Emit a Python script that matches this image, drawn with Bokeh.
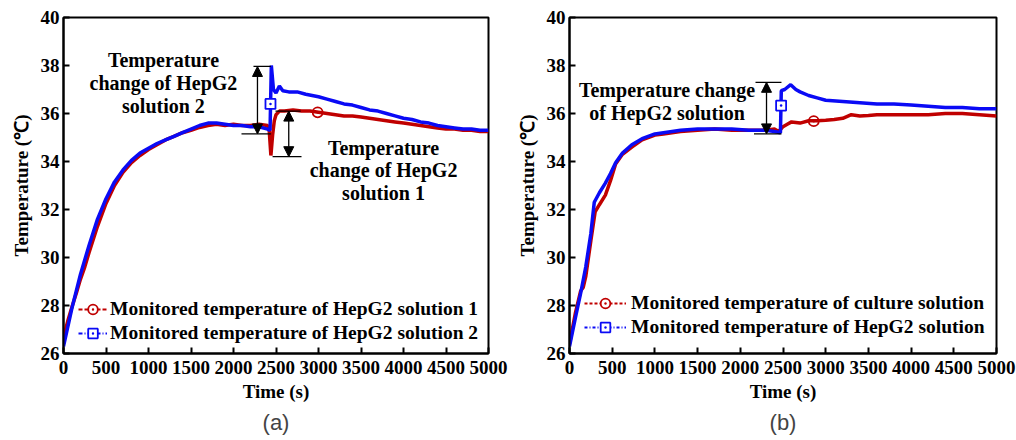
from bokeh.plotting import figure
from bokeh.layouts import row
from bokeh.models import (Range1d, Legend, LegendItem, Arrow, NormalHead, Label,
                          Title, FixedTicker)
from bokeh.embed import file_html
from bokeh.resources import INLINE

NAN = float("nan")

# ---------------- data: panel (a) ----------------
a_red_t = [0, 50, 100, 150, 200, 250, 300, 400, 500, 600, 700, 800, 900, 1000, 1100, 1200,
           1300, 1400, 1500, 1600, 1700, 1800, 1900, 2000, 2100, 2200, 2300, 2400, 2420,
           2440, 2460, 2480, 2500, 2540, 2600, 2700, 2800, 2900, 3000, 3100, 3200, 3300,
           3400, 3500, 3600, 3700, 3800, 3900, 4000, 4100, 4200, 4300, 4400, 4500, 4600,
           4700, 4800, 4900, 5000]
a_red_v = [26.7, 27.35, 27.95, 28.5, 29.1, 29.6, 30.2, 31.3, 32.25, 33.0, 33.55, 33.95, 34.25,
           34.5, 34.7, 34.9, 35.05, 35.2, 35.3, 35.42, 35.5, 35.55, 35.5, 35.55, 35.5,
           35.5, 35.55, 35.5, 35.3, 34.25, 35.1, 35.7, 35.95, 36.1, 36.1, 36.15, 36.1, 36.1,
           36.05, 36.0, 35.95, 35.9, 35.9, 35.85, 35.8, 35.75, 35.7, 35.65, 35.6, 35.55,
           35.5, 35.45, 35.4, 35.35, 35.35, 35.3, 35.3, 35.25, 35.25]
a_blue_t = [0, 50, 100, 200, 300, 400, 500, 600, 700, 800, 900, 1000, 1100, 1200, 1300, 1400,
            1500, 1600, 1700, 1800, 1900, 2000, 2100, 2200, 2300, 2400, 2430, 2445, 2470,
            2500, 2540, 2580, 2650, 2750, 2850, 3000, 3100, 3200, 3300, 3400, 3500, 3600,
            3700, 3800, 3900, 4000, 4100, 4200, 4300, 4400, 4500, 4600, 4700, 4800, 4900,
            5000]
a_blue_v = [26.3, 27.1, 27.9, 29.3, 30.5, 31.6, 32.45, 33.15, 33.65, 34.05, 34.35, 34.55,
            34.75, 34.9, 35.05, 35.2, 35.35, 35.5, 35.6, 35.6, 35.55, 35.5, 35.5, 35.45, 35.45,
            35.35, 35.3, 38.0, 37.0, 36.85, 37.15, 36.95, 36.9, 36.9, 36.8, 36.7, 36.6, 36.5,
            36.4, 36.35, 36.25, 36.15, 36.1, 36.0, 35.9, 35.8, 35.75, 35.65, 35.6, 35.5, 35.45,
            35.4, 35.35, 35.35, 35.3, 35.3]
a_red_marker = ([2990], [36.05])
a_blue_marker = ([2435], [36.4])
a_labels = ["Monitored temperature of HepG2 solution 1",
            "Monitored temperature of HepG2 solution 2"]
a_note2 = ["Temperature", "change of HepG2", "solution 2"]
a_note1 = ["Temperature", "change of HepG2", "solution 1"]

# ---------------- data: panel (b) ----------------
b_red_t = [0, 70, 130, 160, 190, 250, 300, 350, 420, 480, 540, 620, 730, 850, 1000, 1100,
           1300, 1500, 1700, 1900, 2100, 2300, 2400, 2450, 2500, 2550, 2600, 2700, 2800,
           2900, 3000, 3100, 3200, 3300, 3400, 3500, 3600, 3800, 4000, 4200, 4400, 4600,
           4800, 5000]
b_red_v = [26.4, 27.7, 28.6, 28.75, 29.2, 30.7, 31.9, 32.2, 32.6, 33.2, 33.9, 34.3, 34.6,
           34.9, 35.1, 35.15, 35.25, 35.3, 35.35, 35.3, 35.3, 35.3, 35.35, 35.25, 35.45,
           35.55, 35.65, 35.6, 35.7, 35.7, 35.72, 35.75, 35.8, 35.95, 35.9, 35.92, 35.95,
           35.95, 35.95, 35.95, 36.0, 36.0, 35.95, 35.9]
b_blue_t = [0, 70, 130, 190, 250, 290, 350, 420, 480, 540, 620, 730, 850, 1000, 1100, 1300,
            1500, 1700, 1900, 2100, 2300, 2400, 2470, 2480, 2520, 2590, 2650, 2700, 2800,
            2900, 3000, 3200, 3400, 3600, 3800, 4000, 4200, 4400, 4600, 4800, 5000]
b_blue_v = [26.3, 27.5, 28.5, 29.6, 31.0, 32.3, 32.7, 33.1, 33.5, 33.95, 34.35, 34.7, 34.95,
            35.15, 35.2, 35.3, 35.35, 35.35, 35.35, 35.3, 35.3, 35.25, 35.2, 36.95, 37.0,
            37.2, 37.0, 36.9, 36.75, 36.65, 36.55, 36.5, 36.45, 36.4, 36.4, 36.35, 36.3,
            36.25, 36.25, 36.2, 36.2]
b_red_marker = ([2860], [35.68])
b_blue_marker = ([2478], [36.33])
b_labels = ["Monitored temperature of culture solution",
            "Monitored temperature of HepG2 solution"]
b_note = ["Temperature change", "of HepG2 solution"]

x_ticks = [0, 500, 1000, 1500, 2000, 2500, 3000, 3500, 4000, 4500, 5000]
y_ticks = [26, 28, 30, 32, 34, 36, 38, 40]

RED = "#C00000"
BLUE = "#0A0AF5"
SERIF = "Liberation Serif"


def base_fig(border_left, border_right, caption):
    p = figure(width=508, height=440, output_backend="svg", toolbar_location=None,
               x_range=Range1d(0, 5000), y_range=Range1d(26, 40),
               min_border_left=border_left, min_border_right=border_right,
               min_border_top=17, min_border_bottom=87)
    p.grid.visible = False
    p.outline_line_color = "black"
    p.outline_line_width = 2
    p.background_fill_color = "white"
    p.xaxis.ticker = FixedTicker(ticks=x_ticks)
    p.yaxis.ticker = FixedTicker(ticks=y_ticks)
    for ax in (p.xaxis[0], p.yaxis[0]):
        ax.axis_line_width = 2
        ax.major_tick_in = 6
        ax.major_tick_out = 0
        ax.major_tick_line_width = 2
        ax.minor_tick_line_color = None
        ax.major_label_text_font = SERIF
        ax.major_label_text_font_style = "bold"
        ax.major_label_text_font_size = "19px"
        ax.major_label_text_color = "black"
        ax.axis_label_text_font = SERIF
        ax.axis_label_text_font_style = "bold"
        ax.axis_label_text_font_size = "19px"
        ax.axis_label_text_color = "black"
    p.xaxis.axis_label = "Time (s)"
    p.yaxis.axis_label = "Temperature (\u2103)"
    p.xaxis.major_label_standoff = 7
    p.yaxis.major_label_standoff = 4
    p.xaxis.axis_label_standoff = 4
    p.yaxis.axis_label_standoff = 6
    t = Title(text=caption, align="center", text_font="Liberation Sans",
              text_font_style="normal", text_font_size="22px", standoff=6)
    p.add_layout(t, "below")
    return p


def add_series(p, t, v, color):
    p.line(t, v, line_color=color, line_width=3.5)


def add_legend(p, labels, dashes, x_off, y_off, gw, standoff):
    items = []
    specs = [(RED, "circle_dot"), (BLUE, "square_dot")]
    for lab, dash, (col, mk) in zip(labels, dashes, specs):
        lr = p.line([NAN], [NAN], line_color=col, line_width=1.8, line_dash=dash)
        sr = p.scatter([NAN], [NAN], marker=mk, size=10, line_color=col, fill_color="white",
                       line_width=1.8)
        items.append(LegendItem(label=lab, renderers=[lr, sr]))
    leg = Legend(items=items, location=(x_off, y_off), padding=0, spacing=0, margin=0,
                 glyph_width=gw, glyph_height=24, label_height=24, label_standoff=standoff,
                 label_text_font=SERIF, label_text_font_style="bold",
                 label_text_font_size="19.5px", label_text_color="black",
                 background_fill_alpha=0, border_line_alpha=0)
    p.add_layout(leg)


def add_markers(p, red_m, blue_m):
    p.scatter(red_m[0], red_m[1], marker="circle_dot", size=10, line_color=RED,
              fill_color=None, line_width=1.8)
    p.scatter(blue_m[0], blue_m[1], marker="square_dot", size=10, line_color=BLUE,
              fill_color="white", line_width=1.8)


def bracket(p, x0_top, x1_top, y_top, x0_bot, x1_bot, y_bot, x_arrow):
    p.segment(x0=[x0_top, x0_bot], y0=[y_top, y_bot], x1=[x1_top, x1_bot], y1=[y_top, y_bot],
              line_color="black", line_width=1.3)
    p.add_layout(Arrow(x_start=x_arrow, y_start=y_bot, x_end=x_arrow, y_end=y_top,
                       line_width=1.3, line_color="black",
                       start=NormalHead(size=10, fill_color="black", line_color="black"),
                       end=NormalHead(size=10, fill_color="black", line_color="black")))


def note(p, lines, x, ys):
    for txt, y in zip(lines, ys):
        p.add_layout(Label(x=x, y=y, text=txt, text_align="center", text_baseline="middle",
                           text_font=SERIF, text_font_style="bold", text_font_size="20px",
                           text_color="black"))


# ---------- panel (a) ----------
pa = base_fig(63, 20, "(a)")
add_series(pa, a_red_t, a_red_v, RED)
add_series(pa, a_blue_t, a_blue_v, BLUE)
add_markers(pa, a_red_marker, a_blue_marker)
bracket(pa, 2235, 2440, 37.96, 2094, 2440, 35.15, 2282)
bracket(pa, 2494, 2790, 36.1, 2460, 2800, 34.2, 2650)
note(pa, a_note2, 1176, [38.25, 37.27, 36.3])
note(pa, a_note1, 3765, [34.58, 33.63, 32.67])
add_legend(pa, a_labels, ["4 2", "4 2 1 2"], 15, 8, 29, 3)

# ---------- panel (b) ----------
pb = base_fig(61, 20, "(b)")
add_series(pb, b_red_t, b_red_v, RED)
add_series(pb, b_blue_t, b_blue_v, BLUE)
add_markers(pb, b_red_marker, b_blue_marker)
bracket(pb, 2178, 2482, 37.3, 2160, 2482, 35.15, 2307)
note(pb, b_note, 1142, [37.0, 36.04])
add_legend(pb, b_labels, ["3 2", "3 2 1 2"], 15, 14, 42, 5)

layout = row(pa, pb)
open("out.html", "w").write(file_html(layout, INLINE))
